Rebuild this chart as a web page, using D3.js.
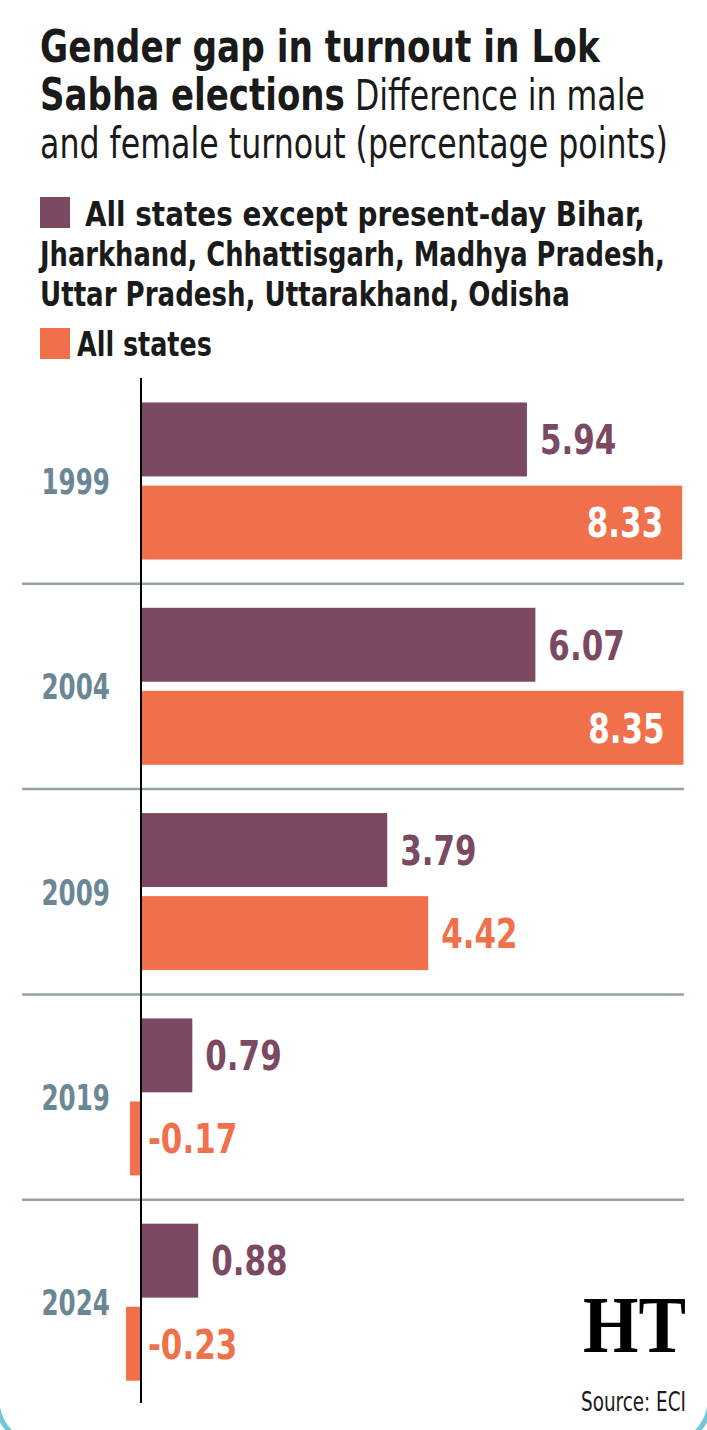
<!DOCTYPE html>
<html><head><meta charset="utf-8">
<script src="https://cdn.jsdelivr.net/npm/d3@7"></script>
<style>
html,body{margin:0;padding:0;background:#fff;}
svg{display:block;}
text{font-family:'DejaVu Sans Condensed','DejaVu Sans',sans-serif;font-stretch:condensed;}
</style></head>
<body><svg id="c" width="707" height="1430"></svg>
<script>
// ---- data ----
const years = ["1999", "2004", "2009", "2019", "2024"];
const seriesKeys = ["except", "all"];
const exceptStates = [5.94, 6.07, 3.79, 0.79, 0.88];
const allStates = [8.33, 8.35, 4.42, -0.17, -0.23];
const titleBold1 = "Gender gap in turnout in Lok";
const titleBold2 = "Sabha elections";
const subtitle1 = "Difference in male";
const subtitle2 = "and female turnout (percentage points)";
const legendExceptLines = ["All states except present-day Bihar,", "Jharkhand, Chhattisgarh, Madhya Pradesh,", "Uttar Pradesh, Uttarakhand, Odisha"];
const legendAll = "All states";
const sourceText = "Source: ECI";

const colors = {except: "#7b4962", all: "#f0704b"};
const yearColor = "#6b8796";

const svg = d3.select("#c");
svg.append("rect").attr("width", 707).attr("height", 1430).attr("fill", "#fff");

// horizontally compress a text so that it spans `target` px, via transform
function placeFit(node, x0, y0, target, anchorEnd) {
  node.setAttribute("x", 0);
  node.setAttribute("y", 0);
  node.setAttribute("text-anchor", "start");
  const w = node.getComputedTextLength();
  const k = target / w;
  const left = anchorEnd ? x0 - target : x0;
  node.setAttribute("transform", `translate(${left},${y0}) scale(${k},1)`);
}
function squeeze(sel, k, xf, yf, anchorEnd) {
  sel.each(function (d) {
    this.setAttribute("x", 0);
    const w = this.getComputedTextLength();
    placeFit(this, xf(d), yf(d), w * k, anchorEnd);
  });
}
function addText(parent, s, size, weight) {
  return parent.append("text").attr("font-size", size).attr("font-weight", weight || "normal").attr("fill", "#1a1a1a").text(s);
}

// ---- title ----
placeFit(addText(svg, titleBold1, 44, "bold").node(), 40, 62, 560);
placeFit(addText(svg, titleBold2, 44, "bold").node(), 40, 110, 305);
placeFit(addText(svg, subtitle1, 42).node(), 355, 110, 290);
placeFit(addText(svg, subtitle2, 42).node(), 40, 158, 628);

// ---- legend ----
svg.append("rect").attr("x", 40).attr("y", 197).attr("width", 30).attr("height", 31).attr("fill", colors.except);
const legWidths = [560, 625, 530];
const legX = [85, 40, 40];
legendExceptLines.forEach((s, i) => {
  placeFit(addText(svg, s, 34, "bold").node(), legX[i], 226 + i * 40, legWidths[i]);
});
svg.append("rect").attr("x", 40).attr("y", 328).attr("width", 30).attr("height", 31).attr("fill", colors.all);
placeFit(addText(svg, legendAll, 34, "bold").node(), 77, 356, 135);

// ---- scales ----
const x = d3.scaleLinear().domain([0, d3.max(allStates)]).range([141, 683.5]);
const y = d3.scaleBand().domain(years).range([378.5, 1405]).padding(0);
const yi = d3.scaleBand().domain(seriesKeys).range([24, 181]).paddingInner(0.11);

const rows = years.map((yr, i) => ({year: yr, except: exceptStates[i], all: allStates[i]}));

// separators
svg.append("g").selectAll("line").data(years.slice(1)).join("line")
  .attr("x1", 22).attr("x2", 684)
  .attr("y1", d => y(d)).attr("y2", d => y(d))
  .attr("stroke", "#93a3a7").attr("stroke-width", 2.5);

// year labels
const yl = svg.append("g").selectAll("text").data(years).join("text")
  .attr("dy", "0.36em")
  .attr("font-size", 36).attr("font-weight", "bold").attr("fill", yearColor)
  .text(d => d);
squeeze(yl, 0.76, () => 110, d => y(d) + y.bandwidth() / 2, true);

// bars
const bars = [];
rows.forEach(r => seriesKeys.forEach(k => bars.push({year: r.year, key: k, v: r[k]})));
svg.append("g").selectAll("rect").data(bars).join("rect")
  .attr("x", d => Math.min(x(0), x(d.v)))
  .attr("width", d => Math.abs(x(d.v) - x(0)))
  .attr("y", d => y(d.year) + yi(d.key))
  .attr("height", yi.bandwidth())
  .attr("fill", d => colors[d.key]);

// value labels
const inside = d => x(d.v) + 13 + 80 > 700;
const vl = svg.append("g").selectAll("text").data(bars).join("text")
  .attr("dy", "0.37em")
  .attr("font-size", 40).attr("font-weight", "bold")
  .attr("fill", d => inside(d) ? "#fff" : colors[d.key])
  .text(d => d.v.toFixed(2));
const labY = d => y(d.year) + yi(d.key) + yi.bandwidth() / 2;
squeeze(vl.filter(d => !inside(d)), 0.86, d => (d.v < 0 ? x(0) + 7 : x(d.v) + 13), labY, false);
squeeze(vl.filter(d => inside(d)), 0.86, d => x(d.v) - 19, labY, true);

// axis line
svg.append("line").attr("x1", x(0)).attr("x2", x(0)).attr("y1", 378).attr("y2", 1403)
  .attr("stroke", "#000").attr("stroke-width", 2);

// HT logo (text)
const ht = svg.append("text").attr("font-size", 80)
  .attr("font-weight", "bold").attr("fill", "#000")
  .style("font-family", "'Liberation Serif','DejaVu Serif',serif").style("font-stretch", "normal")
  .text("HT");
placeFit(ht.node(), 583, 1352, 103);

// source
placeFit(addText(svg, sourceText, 27).node(), 581, 1411, 105);

// rounded frame corners
svg.append("rect").attr("x", -3).attr("y", -100).attr("width", 713).attr("height", 1545)
  .attr("rx", 45).attr("ry", 45).attr("fill", "none")
  .attr("stroke", "#72c7d7").attr("stroke-width", 5);
</script></body></html>
